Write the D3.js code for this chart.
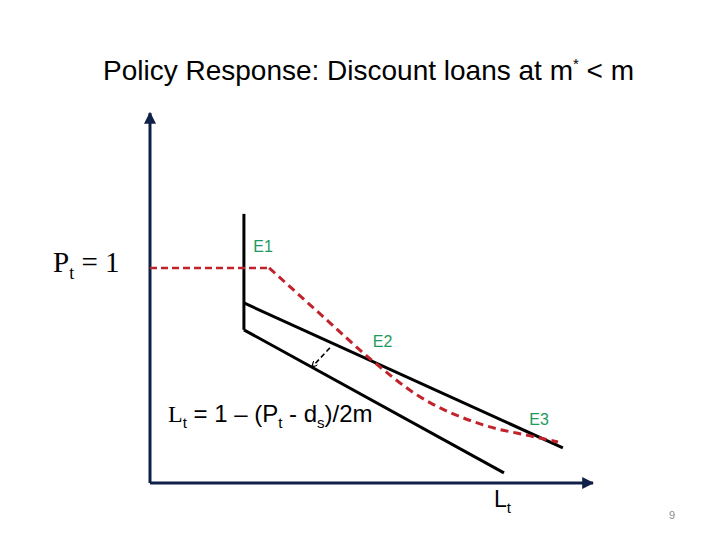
<!DOCTYPE html>
<html>
<head>
<meta charset="utf-8">
<script src="https://cdn.jsdelivr.net/npm/d3@7"></script>
<style>
  body { margin: 0; background: #fff; }
  svg { display: block; }
</style>
</head>
<body>
<script>
// quantity of loans (x) and price (y), in diagram units
var oldDemandTop = [[0.212, 1.251], [0.212, 0.712]];
var upperLine = [[0.212, 0.837], [0.932, 0.163]];
var lowerLine = [[0.212, 0.712], [0.799, 0.047]];
var priceFloor = [[0, 1], [0.269, 1]];
var responsePath = [[0.269, 1.0], [0.384, 0.786], [0.503, 0.567], [0.603, 0.409],
                    [0.752, 0.270], [0.858, 0.219], [0.921, 0.191]];
var shiftArrow = [[0.406, 0.628], [0.366, 0.540]];
var eqLabels = ["E1", "E2", "E3"];
var eqPoints = [[0.233, 1.074], [0.503, 0.633], [0.856, 0.270]];

var width = 720, height = 540;
var svg = d3.select("body").append("svg")
    .attr("width", width)
    .attr("height", height);

var x = d3.scaleLinear().domain([0, 1]).range([150, 593]);
var y = d3.scaleLinear().domain([0, 1.72]).range([483, 113]);

var line = d3.line()
    .x(function (d) { return x(d[0]); })
    .y(function (d) { return y(d[1]); });

var navy = "#0f2148";
var defs = svg.append("defs");
defs.append("marker")
    .attr("id", "axisHead")
    .attr("viewBox", "0 0 10 10")
    .attr("refX", 9).attr("refY", 5)
    .attr("markerWidth", 4).attr("markerHeight", 4)
    .attr("orient", "auto")
    .append("path").attr("d", "M0,0 L10,5 L0,10 z").attr("fill", navy);
defs.append("marker")
    .attr("id", "shiftHead")
    .attr("viewBox", "0 0 10 10")
    .attr("refX", 9).attr("refY", 5)
    .attr("markerWidth", 6).attr("markerHeight", 6)
    .attr("markerUnits", "userSpaceOnUse")
    .attr("orient", "auto")
    .append("path").attr("d", "M0,0 L10,5 L0,10").attr("fill", "none")
    .attr("stroke", "#000").attr("stroke-width", 2);

// title
var title = svg.append("text")
    .attr("x", 103).attr("y", 80)
    .style("font-family", "'Liberation Sans', Arial, sans-serif")
    .style("font-size", "28px")
    .attr("fill", "#000");
title.append("tspan").text("Policy Response: Discount loans at m");
title.append("tspan").attr("dy", -11).style("font-size", "15px").text("*");
title.append("tspan").attr("dy", 11).text(" < m");

// axes
svg.append("path")
    .attr("d", line([[0, 0], [0, 1.72]]))
    .attr("stroke", navy).attr("stroke-width", 3).attr("fill", "none")
    .attr("marker-end", "url(#axisHead)");
svg.append("path")
    .attr("d", line([[0, 0], [1, 0]]))
    .attr("stroke", navy).attr("stroke-width", 3).attr("fill", "none")
    .attr("marker-end", "url(#axisHead)");

// black demand / supply lines
[oldDemandTop, upperLine, lowerLine].forEach(function (pts) {
    svg.append("path")
        .attr("d", line(pts))
        .attr("stroke", "#000").attr("stroke-width", 3)
        .attr("fill", "none");
});

// red dashed response
var red = "#c0232b";
svg.append("path")
    .attr("d", line(priceFloor))
    .attr("stroke", red).attr("stroke-width", 2.5)
    .attr("stroke-dasharray", "7,4").attr("fill", "none");
svg.append("path")
    .attr("d", line.curve(d3.curveMonotoneX)(responsePath))
    .attr("stroke", red).attr("stroke-width", 3)
    .attr("stroke-dasharray", "8,5").attr("fill", "none");
line.curve(d3.curveLinear);

// shift arrow
svg.append("path")
    .attr("d", line(shiftArrow))
    .attr("stroke", "#000").attr("stroke-width", 1.6)
    .attr("stroke-dasharray", "5,3").attr("fill", "none")
    .attr("marker-end", "url(#shiftHead)");

// equilibrium labels
svg.selectAll("text.eq")
    .data(eqLabels)
    .enter().append("text")
    .attr("class", "eq")
    .attr("x", function (d, i) { return x(eqPoints[i][0]); })
    .attr("y", function (d, i) { return y(eqPoints[i][1]); })
    .style("font-family", "'Liberation Sans', Arial, sans-serif")
    .style("font-size", "16px")
    .attr("fill", "#1f9a5c")
    .text(function (d) { return d; });

// Pt = 1
var pt = svg.append("text")
    .attr("x", 53).attr("y", 272)
    .style("font-family", "'Liberation Serif', 'Times New Roman', serif")
    .style("font-size", "29px")
    .attr("fill", "#000");
pt.append("tspan").text("P");
pt.append("tspan").attr("dy", 7).style("font-size", "18px").text("t");
pt.append("tspan").attr("dy", -7).text(" = 1");

// Lt = 1 – (Pt - ds)/2m
var eq = svg.append("text")
    .attr("x", 168).attr("y", 422)
    .style("font-family", "'Liberation Sans', Arial, sans-serif")
    .style("font-size", "24px")
    .attr("fill", "#000");
eq.append("tspan").style("font-family", "'Liberation Serif', serif").text("L");
eq.append("tspan").attr("dy", 6).style("font-size", "15px").text("t");
eq.append("tspan").attr("dy", -6).text(" = 1 – (P");
eq.append("tspan").attr("dy", 6).style("font-size", "15px").text("t");
eq.append("tspan").attr("dy", -6).text(" - d");
eq.append("tspan").attr("dy", 6).style("font-size", "15px").text("s");
eq.append("tspan").attr("dy", -6).text(")/2m");

// axis label Lt
var lt = svg.append("text")
    .attr("x", 494).attr("y", 507)
    .style("font-family", "'Liberation Sans', Arial, sans-serif")
    .style("font-size", "23px")
    .attr("fill", "#000");
lt.append("tspan").text("L");
lt.append("tspan").attr("dy", 6).style("font-size", "15px").text("t");

// page number
svg.append("text")
    .attr("x", 669).attr("y", 519)
    .style("font-family", "'Liberation Sans', Arial, sans-serif")
    .style("font-size", "11px")
    .attr("fill", "#8c8c8c")
    .text("9");
</script>
</body>
</html>
